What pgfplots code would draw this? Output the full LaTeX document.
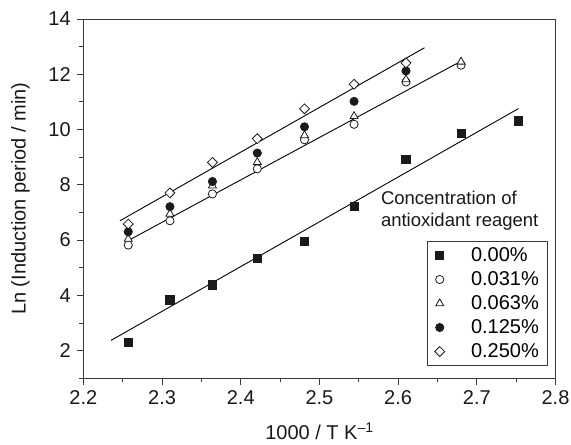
\documentclass[border=0pt]{standalone}
\usepackage{fontspec}
\setmainfont{Liberation Sans}
\usepackage{pgfplots}
\pgfplotsset{compat=1.18}
\definecolor{axgray}{HTML}{3A3A3A}
\definecolor{mk}{HTML}{1A1A1A}
\pgfplotsset{myleg/.style={legend image code/.code={\node[draw=none, fill=none, inner sep=0pt, minimum width=31pt, minimum height=1pt] at (15.5pt,0pt) {};\draw[##1] plot coordinates {(21.6pt,0pt)};}}}
\begin{document}
\fontsize{18}{21.5}\selectfont
\begin{tikzpicture}
\useasboundingbox (-83.4pt,-66.7pt) rectangle (487.6pt,378.3pt);
\begin{axis}[
  at={(0pt,0pt)}, anchor=south west,
  scale only axis, width=472.1pt, height=359.3pt,
  xmin=2.2, xmax=2.8, ymin=1, ymax=14,
  xtick={2.2,2.3,2.4,2.5,2.6,2.7,2.8},
  minor xtick={2.25,2.35,2.45,2.55,2.65,2.75},
  ytick={2,4,6,8,10,12,14},
  minor ytick={1,3,5,7,9,11,13},
  xtick pos=bottom, ytick pos=left,
  tick align=outside,
  major tick length=6.5pt, minor tick length=4pt,
  axis line style={line width=0.9pt, draw=axgray},
  every tick/.style={line width=0.9pt, draw=axgray},
  /pgf/number format/assume math mode=true,
  xticklabel style={/pgf/number format/.cd, fixed, fixed zerofill, precision=1},
  yticklabel style={/pgf/number format/.cd, fixed, precision=0},
  ticklabel style={font=\fontsize{20}{24}\selectfont, text=black!90},
  xlabel={1000 / T K\textsuperscript{–1}},
  ylabel={Ln (Induction period / min)},
  xlabel style={at={(axis description cs:0.5,-0.147)}, anchor=center},
  ylabel style={at={(axis description cs:-0.1332,0.5)}, anchor=center},
  label style={font=\fontsize{20}{24}\selectfont, text=black!90},
  legend cell align=left,
  legend style={at={(axis description cs:0.9848,0.0342)}, anchor=south east,
    draw=axgray, line width=0.9pt, font=\fontsize{20}{24}\selectfont,
    inner xsep=7pt, inner ysep=3.3pt, row sep=2.5pt, column sep=4pt,
    nodes={inner sep=2pt, text height=14.5pt, text depth=3pt}},
  every axis plot/.append style={line width=0.8pt},
]
% regression lines
\addplot[black, line width=0.9pt, forget plot] coordinates {(2.2465,6.70) (2.6335,12.96)};
\addplot[black, line width=0.9pt, forget plot] coordinates {(2.2528,5.92) (2.6745,12.39)};
\addplot[black, line width=0.9pt, forget plot] coordinates {(2.235,2.37) (2.753,10.76)};
% 0.00%
\addplot[only marks, myleg, mark=square*, mark size=4.1pt, draw=mk, fill=mk] coordinates {
(2.257,2.31) (2.310,3.84) (2.364,4.38) (2.421,5.34) (2.481,5.95) (2.544,7.21) (2.610,8.91) (2.680,9.87) (2.753,10.31)};
\addlegendentry{0.00\%}
% 0.031%
\addplot[only marks, myleg, mark=*, mark size=4.1pt, draw=mk, fill=white] coordinates {
(2.257,5.82) (2.310,6.70) (2.364,7.67) (2.421,8.58) (2.481,9.63) (2.544,10.19) (2.610,11.72) (2.680,12.33)};
\addlegendentry{0.031\%}
% 0.063%
\addplot[only marks, myleg, mark=triangle*, mark size=4.6pt, draw=mk, fill=white] coordinates {
(2.257,6.04) (2.310,6.95) (2.364,7.97) (2.421,8.82) (2.481,9.79) (2.544,10.48) (2.610,11.81) (2.680,12.45)};
\addlegendentry{0.063\%}
% 0.125%
\addplot[only marks, myleg, mark=*, mark size=4.1pt, draw=mk, fill=mk] coordinates {
(2.257,6.30) (2.310,7.21) (2.364,8.12) (2.421,9.15) (2.481,10.10) (2.544,11.02) (2.610,12.12)};
\addlegendentry{0.125\%}
% 0.250%
\addplot[only marks, myleg, mark=square*, mark size=3.5pt, mark options={rotate=45}, draw=mk, fill=white] coordinates {
(2.257,6.58) (2.310,7.71) (2.364,8.81) (2.421,9.67) (2.481,10.75) (2.544,11.64) (2.610,12.41)};
\addlegendentry{0.250\%}
\node[anchor=west, align=left, inner sep=0pt, text=black!90, font=\fontsize{18.5}{21.5}\selectfont] at (axis cs:2.578,7.07) {Concentration of\\antioxidant reagent};
\end{axis}
\end{tikzpicture}
\end{document}
